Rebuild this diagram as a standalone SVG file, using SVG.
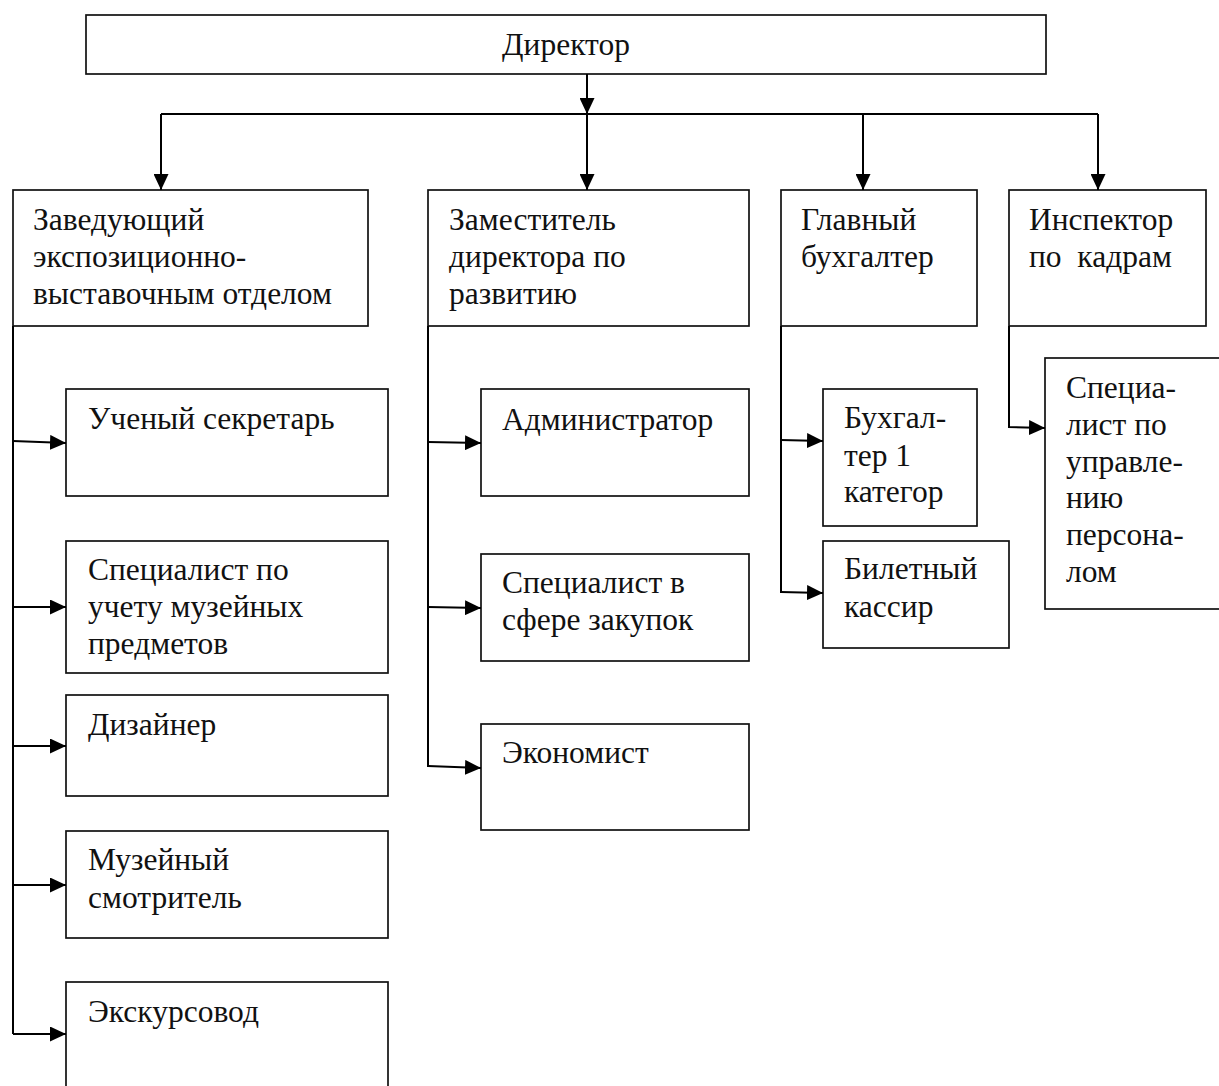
<svg xmlns="http://www.w3.org/2000/svg" width="1219" height="1086" viewBox="0 0 1219 1086">
<style>
.box{fill:#fff;stroke:#111;stroke-width:1.7}
.t{font-family:"Liberation Serif","Times New Roman",serif;font-size:31.5px;fill:#111}
.c{fill:none;stroke:#000;stroke-width:2}
</style>
<defs>
<marker id="ah" markerUnits="userSpaceOnUse" markerWidth="16" markerHeight="15" refX="16" refY="7.5" orient="auto">
<path d="M0,0 L16,7.5 L0,15 Z" fill="#000"/>
</marker>
</defs>
<rect width="1219" height="1086" fill="#fff"/>

<g id="director">
<rect class="box" x="86" y="15" width="960" height="59"/>
<text class="t" x="566" y="55" text-anchor="middle">Директор</text>
</g>

<g id="head-expo">
<rect class="box" x="13" y="190" width="355" height="136"/>
<text class="t" x="33" y="230">Заведующий</text>
<text class="t" x="33" y="267">экспозиционно-</text>
<text class="t" x="33" y="304">выставочным отделом</text>
</g>

<g id="deputy">
<rect class="box" x="428" y="190" width="321" height="136"/>
<text class="t" x="449" y="230">Заместитель</text>
<text class="t" x="449" y="267">директора по</text>
<text class="t" x="449" y="304">развитию</text>
</g>

<g id="chief-accountant">
<rect class="box" x="781" y="190" width="196" height="136"/>
<text class="t" x="801" y="230">Главный</text>
<text class="t" x="801" y="267">бухгалтер</text>
</g>

<g id="hr-inspector">
<rect class="box" x="1009" y="190" width="197" height="136"/>
<text class="t" x="1029" y="230">Инспектор</text>
<text class="t" x="1029" y="267" xml:space="preserve">по  кадрам</text>
</g>

<g id="scientific-secretary">
<rect class="box" x="66" y="389" width="322" height="107"/>
<text class="t" x="88" y="429">Ученый секретарь</text>
</g>

<g id="registrar">
<rect class="box" x="66" y="541" width="322" height="132"/>
<text class="t" x="88" y="580">Специалист по</text>
<text class="t" x="88" y="617">учету музейных</text>
<text class="t" x="88" y="654">предметов</text>
</g>

<g id="designer">
<rect class="box" x="66" y="695" width="322" height="101"/>
<text class="t" x="88" y="735">Дизайнер</text>
</g>

<g id="attendant">
<rect class="box" x="66" y="831" width="322" height="107"/>
<text class="t" x="88" y="870">Музейный</text>
<text class="t" x="88" y="908">смотритель</text>
</g>

<g id="guide">
<rect class="box" x="66" y="982" width="322" height="120"/>
<text class="t" x="88" y="1022">Экскурсовод</text>
</g>

<g id="administrator">
<rect class="box" x="481" y="389" width="268" height="107"/>
<text class="t" x="502" y="430">Администратор</text>
</g>

<g id="procurement">
<rect class="box" x="481" y="554" width="268" height="107"/>
<text class="t" x="502" y="593">Специалист в</text>
<text class="t" x="502" y="630">сфере закупок</text>
</g>

<g id="economist">
<rect class="box" x="481" y="724" width="268" height="106"/>
<text class="t" x="502" y="763">Экономист</text>
</g>

<g id="accountant">
<rect class="box" x="823" y="389" width="154" height="137"/>
<text class="t" x="844" y="428">Бухгал-</text>
<text class="t" x="844" y="466">тер 1</text>
<text class="t" x="844" y="502">категор</text>
</g>

<g id="cashier">
<rect class="box" x="823" y="541" width="186" height="107"/>
<text class="t" x="844" y="579">Билетный</text>
<text class="t" x="844" y="617">кассир</text>
</g>

<g id="hr-specialist">
<rect class="box" x="1045" y="358" width="180" height="251"/>
<text class="t" x="1066" y="398">Специа-</text>
<text class="t" x="1066" y="435">лист по</text>
<text class="t" x="1066" y="472">управле-</text>
<text class="t" x="1066" y="508">нию</text>
<text class="t" x="1066" y="545">персона-</text>
<text class="t" x="1066" y="582">лом</text>
</g>

<g id="connectors">
<path class="c" d="M587,74 V114" marker-end="url(#ah)"/>
<path class="c" d="M161,114 H1098"/>
<path class="c" d="M161,114 V190" marker-end="url(#ah)"/>
<path class="c" d="M587,114 V190" marker-end="url(#ah)"/>
<path class="c" d="M863,114 V190" marker-end="url(#ah)"/>
<path class="c" d="M1098,114 V190" marker-end="url(#ah)"/>

<path class="c" d="M13,326 V1034"/>
<path class="c" d="M13,441 L66,443" marker-end="url(#ah)"/>
<path class="c" d="M13,607 H66" marker-end="url(#ah)"/>
<path class="c" d="M13,746 H66" marker-end="url(#ah)"/>
<path class="c" d="M13,885 H66" marker-end="url(#ah)"/>
<path class="c" d="M13,1034 H66" marker-end="url(#ah)"/>

<path class="c" d="M428,326 V767"/>
<path class="c" d="M428,442 L481,443" marker-end="url(#ah)"/>
<path class="c" d="M428,607 L481,608" marker-end="url(#ah)"/>
<path class="c" d="M428,766 L481,768" marker-end="url(#ah)"/>

<path class="c" d="M781,326 V593"/>
<path class="c" d="M781,440 L823,441" marker-end="url(#ah)"/>
<path class="c" d="M781,592 L823,593" marker-end="url(#ah)"/>

<path class="c" d="M1009,326 V427 L1045,428" marker-end="url(#ah)"/>
</g>
</svg>
